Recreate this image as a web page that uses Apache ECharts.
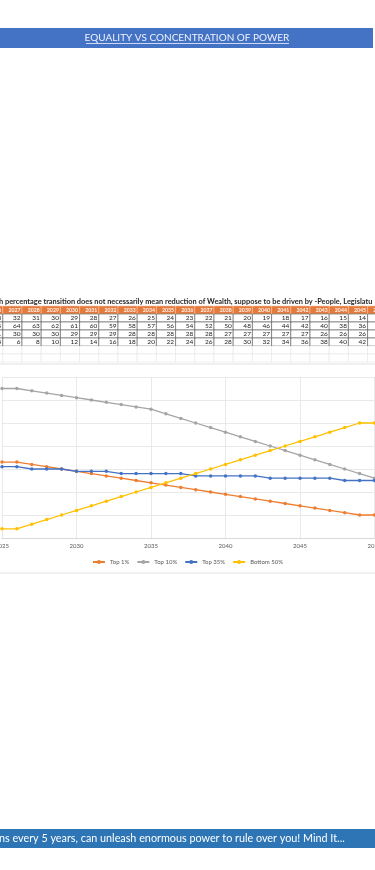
<!DOCTYPE html>
<html>
<head>
<meta charset="utf-8">
<style>
html,body{margin:0;padding:0;background:#fff;}
#chart{width:375px;height:870px;}
</style>
<script src="https://cdn.jsdelivr.net/npm/echarts@6/dist/echarts.min.js"></script>
</head>
<body>
<div id="chart"></div>
<script>
var years = [2025,2026,2027,2028,2029,2030,2031,2032,2033,2034,2035,2036,2037,2038,2039,2040,2041,2042,2043,2044,2045,2046,2047,2048,2049,2050];
var top1 = [33,33,32,31,30,29,28,27,26,25,24,23,22,21,20,19,18,17,16,15,14,13,12,11,10,10];
var top10 = [65,65,64,63,62,61,60,59,58,57,56,54,52,50,48,46,44,42,40,38,36,34,32,30,28,26];
var top35 = [31,31,30,30,30,29,29,29,28,28,28,28,28,27,27,27,27,27,26,26,26,26,26,25,25,25];
var bottom50 = [4,4,6,8,10,12,14,16,18,20,22,24,26,28,30,32,34,36,38,40,42,44,46,48,50,50];
var seriesNames = ['Top 1%','Top 10%','Top 35%','Bottom 50%'];
var seriesColors = ['#ED7D31','#A5A5A5','#4472C4','#FFC000'];
var xTicks = [2025,2050,5];   // min, max, step
var yTicks = [0,70,10];
var tableFirst = 2025, tableLast = 2046;
var blankRows = 2;

var headText = 'EQUALITY VS CONCENTRATION OF POWER';
var noteText = 'h percentage transition does not necessarily mean reduction of Wealth, suppose to be driven by -People, Legislatu';
var footText = 'ns every 5 years, can unleash enormous power to rule over you! Mind It...';

var FONT = 'Lato, "Open Sans", sans-serif';
var myChart = echarts.init(document.getElementById('chart'));

function pairs(vals){
	return years.map(function(y,i){ return [y, vals[i]]; });
}

// table: header row of years + one row per series + empty sheet rows
var allVals = [top1, top10, top35, bottom50];
var tableCols = [], tableCells = [];
var tableRows = ['year'].concat(seriesNames);
for(var b = 0; b < blankRows; b++) tableRows.push('blank' + b);
years.forEach(function(y,i){
	if(y < tableFirst || y > tableLast) return;
	var c = tableCols.length;
	tableCols.push(String(y));
	tableCells.push({col:c, row:0, text:String(y), kind:'head'});
	allVals.forEach(function(v,r){
		tableCells.push({col:c, row:r+1, text:String(v[i]), kind:'cell'});
	});
	for(var b = 0; b < blankRows; b++){
		tableCells.push({col:c, row:allVals.length+1+b, text:'', kind:'blank'});
	}
});

var lineSeries = allVals.map(function(v,k){
	return {
		name: seriesNames[k],
		type: 'line',
		xAxisIndex: 0,
		yAxisIndex: 0,
		data: pairs(v),
		symbol: 'circle',
		symbolSize: 3.5,
		lineStyle: {width: 1.3, color: seriesColors[k]},
		itemStyle: {color: seriesColors[k]},
		z: 3 + k
	};
});

var colW = 19.2, rowH = 8;

var option = {
	animation: false,
	backgroundColor: '#fff',
	textStyle: {fontFamily: FONT},
	graphic: [
		// top banner
		{type:'rect', shape:{x:0, y:28, width:373, height:20}, style:{fill:'#4472C4'}},
		{type:'text', style:{text:headText, x:187, y:38, align:'center', verticalAlign:'middle',
			fill:'#eef3fb', font:'10px ' + FONT}},
		{type:'line', shape:{x1:86, y1:43.5, x2:289, y2:43.5}, style:{stroke:'#eef3fb', lineWidth:0.8}},
		// table note
		{type:'text', style:{text:noteText, x:-1, y:301.5, align:'left', verticalAlign:'middle',
			fill:'#262626', font:'bold 7.4px ' + FONT}},
		// chart frame
		{type:'rect', shape:{x:-1, y:364, width:377, height:209}, style:{fill:'#fff', stroke:'#d9d9d9', lineWidth:0.8}, z:-1},
		// bottom banner
		{type:'rect', shape:{x:0, y:829, width:375, height:19}, style:{fill:'#2E75B6'}},
		{type:'text', style:{text:footText, x:-1, y:838.5, align:'left', verticalAlign:'middle',
			fill:'#ffffff', font:'10.8px ' + FONT}}
	],
	legend: {
		data: seriesNames,
		left: 'center',
		top: 554,
		itemWidth: 12,
		itemHeight: 5,
		itemGap: 7,
		textStyle: {fontSize: 6, color: '#595959', fontFamily: FONT}
	},
	grid: [
		{left: 2, top: 377, width: 372.5, height: 161, outerBoundsMode: 'none', containLabel: false},
		{left: 22 - 3 * colW, top: 306, width: colW * 22, height: rowH * tableRows.length, outerBoundsMode: 'none', containLabel: false}
	],
	xAxis: [
		{
			type: 'value', gridIndex: 0,
			min: xTicks[0], max: xTicks[1], interval: xTicks[2],
			axisLine: {show: true, lineStyle: {color: '#d9d9d9'}},
			axisTick: {show: false},
			axisLabel: {fontSize: 6, color: '#595959', margin: 5, formatter: function(v){ return String(v); }},
			splitLine: {show: true, lineStyle: {color: '#e3e3e3', width: 0.8}}
		},
		{
			type: 'category', gridIndex: 1, data: tableCols,
			axisLine: {show: false}, axisTick: {show: false}, axisLabel: {show: false}, splitLine: {show: false}
		}
	],
	yAxis: [
		{
			type: 'value', gridIndex: 0,
			min: yTicks[0], max: yTicks[1], interval: yTicks[2],
			axisLine: {show: false}, axisTick: {show: false},
			axisLabel: {show: false},
			splitLine: {lineStyle: {color: '#e3e3e3', width: 0.8}}
		},
		{
			type: 'category', gridIndex: 1, inverse: true,
			data: tableRows,
			axisLine: {show: false}, axisTick: {show: false}, axisLabel: {show: false}, splitLine: {show: false}
		}
	],
	series: lineSeries.concat([{
		type: 'custom',
		xAxisIndex: 1,
		yAxisIndex: 1,
		silent: true,
		data: tableCells.map(function(c){ return [c.col, c.row]; }),
		renderItem: function(params, api){
			var cell = tableCells[params.dataIndex];
			var p = api.coord([api.value(0), api.value(1)]);
			var s = api.size([1, 1]);
			var head = cell.kind === 'head', blank = cell.kind === 'blank';
			return {
				type: 'group',
				z2: blank ? 0 : 5,
				children: [
					{type:'rect', shape:{x:p[0]-s[0]/2, y:p[1]-s[1]/2, width:s[0], height:s[1]},
						style:{fill: head ? '#E47A3C' : '#fff',
							stroke: head ? '#f2c3a4' : (blank ? '#e6e6e6' : '#555'), lineWidth: 0.6}},
					{type:'text', style:{text: cell.text,
						x: p[0] + s[0]/2 - 1.5, y: p[1] + 0.3,
						align: 'right', verticalAlign: 'middle',
						fill: head ? '#fff3ea' : '#222', font: (head ? 'bold 5.2px ' : '6.5px ') + FONT}}
				]
			};
		}
	}])
};
myChart.setOption(option);
</script>
</body>
</html>
